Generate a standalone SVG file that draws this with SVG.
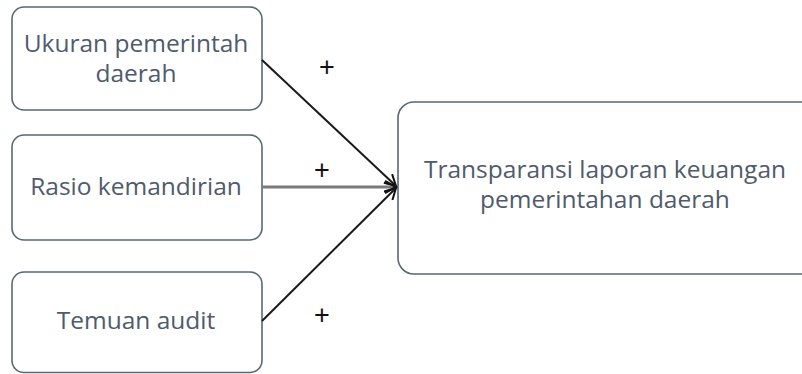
<svg xmlns="http://www.w3.org/2000/svg" width="802" height="374" viewBox="0 0 802 374">
<style>
.box{fill:#fff;stroke:#5b6676;stroke-width:1.6}
.t{font-family:"Open Sans","DejaVu Sans",sans-serif;font-size:24.5px;fill:#4f5b6c;text-anchor:middle}
.ln{stroke:#1a1a1a;stroke-width:2;fill:none}
.pl{font-family:"Liberation Sans",sans-serif;font-size:27px;fill:#111;text-anchor:middle}
</style>
<defs>
<marker id="ah" markerWidth="14" markerHeight="14" refX="12" refY="7" orient="auto" markerUnits="userSpaceOnUse">
<path d="M1,1 L12,7 L1,13" fill="none" stroke="#111" stroke-width="2"/>
</marker>
</defs>
<rect width="802" height="374" fill="#fff"/>
<g id="n1"><rect class="box" x="12" y="7" width="250" height="103" rx="12"/>
<text class="t" x="136" y="52">Ukuran pemerintah</text><text class="t" x="136" y="82">daerah</text></g>
<g id="n2"><rect class="box" x="12" y="135" width="250" height="105" rx="12"/>
<text class="t" x="136" y="195">Rasio kemandirian</text></g>
<g id="n3"><rect class="box" x="12" y="272" width="250" height="100.5" rx="12"/>
<text class="t" x="136" y="329">Temuan audit</text></g>
<g id="n4"><rect class="box" x="398" y="102" width="420" height="172" rx="16"/>
<text class="t" x="605" y="178" font-size="24px">Transparansi laporan keuangan</text><text class="t" x="605" y="208" font-size="24px">pemerintahan daerah</text></g>
<g id="connectors">
<line class="ln" x1="262" y1="60" x2="396" y2="186" marker-end="url(#ah)"/>
<line x1="262" y1="187" x2="396" y2="187" stroke="#7a7a7a" stroke-width="3" marker-end="url(#ah)"/>
<line class="ln" x1="262" y1="321" x2="396" y2="188" marker-end="url(#ah)"/>
<text class="pl" x="327" y="76">+</text>
<text class="pl" x="322" y="179">+</text>
<text class="pl" x="322" y="324">+</text>
</g>
</svg>
